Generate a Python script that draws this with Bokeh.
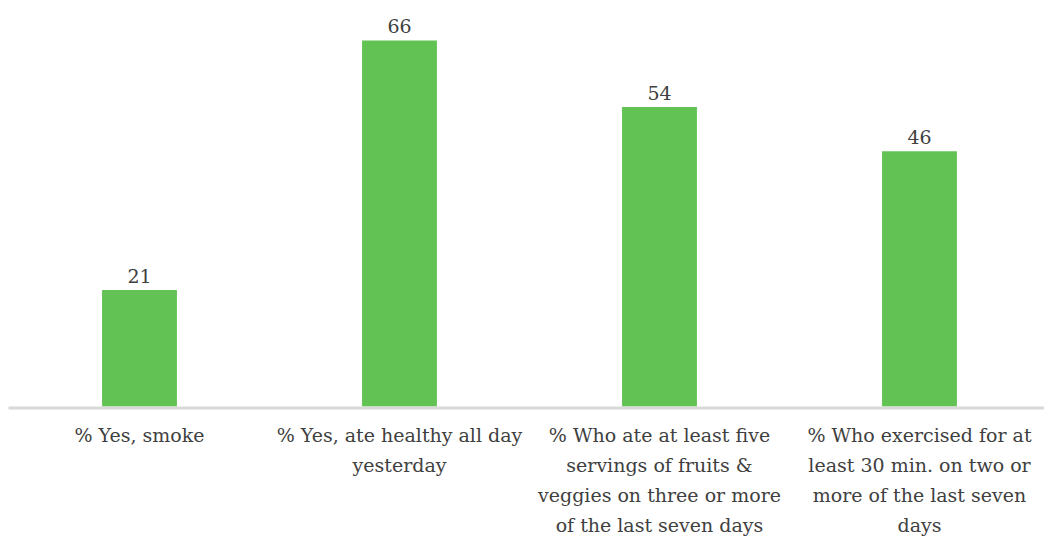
from bokeh.plotting import figure
from bokeh.models import ColumnDataSource, Range1d
from bokeh.core.properties import value
from bokeh.embed import file_html
from bokeh.resources import INLINE

categories = [
    "% Yes, smoke",
    "% Yes, ate healthy all day\nyesterday",
    "% Who ate at least five\nservings of fruits &\nveggies on three or more\nof the last seven days",
    "% Who exercised for at\nleast 30 min. on two or\nmore of the last seven\ndays",
]
values = [21, 66, 54, 46]

xs = list(range(len(categories)))
src = ColumnDataSource(dict(x=xs, top=values, cat=categories, lab=[str(v) for v in values]))

p = figure(width=1044, height=539, output_backend="svg", toolbar_location=None,
           x_range=Range1d(-0.5346, 3.4808), y_range=Range1d(-23.98, 73.2),
           min_border=0, min_border_left=0, min_border_right=0,
           min_border_top=0, min_border_bottom=0)
p.axis.visible = False
p.grid.visible = False
p.outline_line_color = None
p.background_fill_color = "white"
p.border_fill_color = "white"

p.vbar(x="x", top="top", bottom=0, width=0.288, source=src,
       fill_color="#62C354", line_color=None)

p.segment(x0=[-0.504], y0=[-0.27], x1=[3.5], y1=[-0.27], line_color="#D9D9D9",
          line_width=3)

p.text(x="x", y="top", text="lab", source=src, text_align="center",
       text_baseline="bottom", y_offset=-7, text_font=value("DejaVu Serif"),
       text_font_size="19px", text_color="#404040")

p.text(x="x", y=0, text="cat", source=src, text_align="center",
       text_baseline="top", y_offset=18, text_font=value("DejaVu Serif"),
       text_font_size="19px", text_color="#404040", text_line_height=1.36)

open("out.html", "w").write(file_html(p, INLINE))
